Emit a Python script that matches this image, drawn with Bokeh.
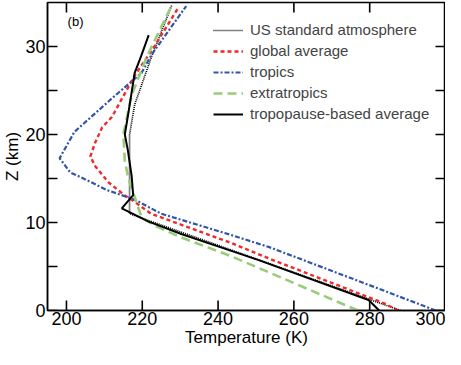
import math
from bokeh.plotting import figure
from bokeh.models import FixedTicker, Legend, LegendItem, Label, Range1d
from bokeh.embed import file_html
from bokeh.resources import INLINE

# ---- data (temperature in K, altitude in km) ----
us_T = [288.15, 216.65, 216.65, 218.0, 222.5, 227.8]
us_z = [0.0, 11.0, 20.0, 23.4, 28.9, 34.7]

glob_T = [287.5, 283.9, 253.5, 243.3, 222.3, 217.5, 215.3, 211.0, 207.6, 206.3, 207.5, 209.4, 212.0, 218.0, 223.2, 229.5]
glob_z = [0.0, 0.8, 5.9, 7.7, 11.0, 12.5, 13.1, 14.6, 16.4, 17.5, 19.0, 20.8, 22.0, 26.7, 30.0, 34.4]

trop_T = [297.4, 284.7, 253.5, 243.3, 225.0, 218.0, 210.6, 205.0, 201.0, 198.2, 202.1, 212.5, 219.8, 222.5, 231.6]
trop_z = [0.0, 2.1, 7.2, 8.6, 11.0, 12.6, 13.7, 14.9, 15.7, 17.3, 20.3, 24.3, 27.0, 29.1, 34.6]

extr_T = [276.9, 250.9, 243.3, 230.3, 223.5, 219.8, 218.0, 216.4, 215.4, 215.0, 217.2, 221.0, 222.5, 227.7]
extr_z = [0.0, 4.8, 6.2, 8.3, 9.6, 10.6, 12.9, 14.9, 17.0, 20.0, 24.5, 28.6, 30.0, 34.6]

tpb_T = [282.5, 279.7, 250.9, 243.3, 230.3, 221.7, 214.6, 217.6, 217.2, 216.2, 215.4, 216.4, 218.0, 219.7, 221.7]
tpb_z = [0.0, 1.2, 5.7, 6.8, 8.7, 10.1, 11.6, 13.1, 15.3, 18.2, 20.0, 22.6, 27.0, 28.9, 31.3]

x_lo, x_hi = 195, 300
y_lo, y_hi = 0, 35
x_ticks = [200, 220, 240, 260, 280, 300]
y_ticks = [0, 10, 20, 30]
y_minor = [5, 15, 25]

labels = ["US standard atmosphere", "global average", "tropics", "extratropics",
          "tropopause-based average"]

FONT = "Liberation Sans"

p = figure(width=445, height=349, x_range=Range1d(x_lo, x_hi), y_range=Range1d(y_lo, y_hi),
           output_backend="svg", toolbar_location=None,
           min_border=0, min_border_top=2, min_border_right=0)
p.xgrid.visible = False
p.ygrid.visible = False
p.outline_line_color = "black"
p.outline_line_width = 1.5
p.background_fill_color = "white"
p.border_fill_color = "white"

r_us = p.line(us_T, us_z, line_color="black", line_width=1.7, line_dash="1 1")
r_gl = p.line(glob_T, glob_z, line_color="#ee2a2a", line_width=2.4, line_dash="4 3")
r_tr = p.line(trop_T, trop_z, line_color="#3355a8", line_width=2.2, line_dash="5 2 2 2")
r_ex = p.line(extr_T, extr_z, line_color="#99cc77", line_width=2.6, line_dash="9 5")
r_tp = p.line(tpb_T, tpb_z, line_color="black", line_width=2.0)

# inward tick marks on all four sides (screen-length rays from the tick values)
tick_kw = dict(length=10, length_units="screen", line_color="black", line_width=1.6)
y_all = y_ticks + y_minor
p.ray(x=x_ticks, y=[y_lo] * len(x_ticks), angle=math.pi / 2, **tick_kw)
p.ray(x=x_ticks, y=[y_hi] * len(x_ticks), angle=-math.pi / 2, **tick_kw)
p.ray(x=[x_lo] * len(y_all), y=y_all, angle=0, **tick_kw)
p.ray(x=[x_hi] * len(y_all), y=y_all, angle=math.pi, **tick_kw)

p.xaxis.ticker = FixedTicker(ticks=x_ticks, minor_ticks=[])
p.yaxis.ticker = FixedTicker(ticks=y_ticks, minor_ticks=y_minor)

for ax in list(p.xaxis) + list(p.yaxis):
    ax.major_tick_in = 0
    ax.major_tick_out = 0
    ax.minor_tick_in = 0
    ax.minor_tick_out = 0
    ax.axis_line_width = 1.5
    ax.axis_line_color = "black"
    ax.major_label_text_font = FONT
    ax.major_label_text_font_size = "18px"
    ax.major_label_text_color = "black"
    ax.axis_label_text_font = FONT
    ax.axis_label_text_font_size = "17px"
    ax.axis_label_text_font_style = "normal"
    ax.axis_label_text_color = "black"

p.xaxis.axis_label = "Temperature (K)"
p.xaxis.major_label_standoff = 1
p.xaxis.axis_label_standoff = 0
p.yaxis.axis_label = "Z (km)"
p.yaxis.major_label_standoff = 2
p.yaxis.axis_label_standoff = 0

items = [LegendItem(label=lab, renderers=[r]) for lab, r in
         zip(labels, [r_us, r_gl, r_tr, r_ex, r_tp])]
legend = Legend(items=items, location=(166, 188))
legend.border_line_color = None
legend.background_fill_alpha = 0
legend.padding = 0
legend.margin = 0
legend.spacing = 4
legend.glyph_width = 30
legend.glyph_height = 16
legend.label_height = 16
legend.label_standoff = 7
legend.label_text_font = FONT
legend.label_text_font_size = "15px"
legend.label_text_baseline = "middle"
p.add_layout(legend, "center")

p.add_layout(Label(x=200.3, y=32.8, text="(b)", text_font=FONT, text_font_size="13px",
                   text_baseline="middle", text_color="black"))

open("out.html", "w").write(file_html(p, INLINE))
